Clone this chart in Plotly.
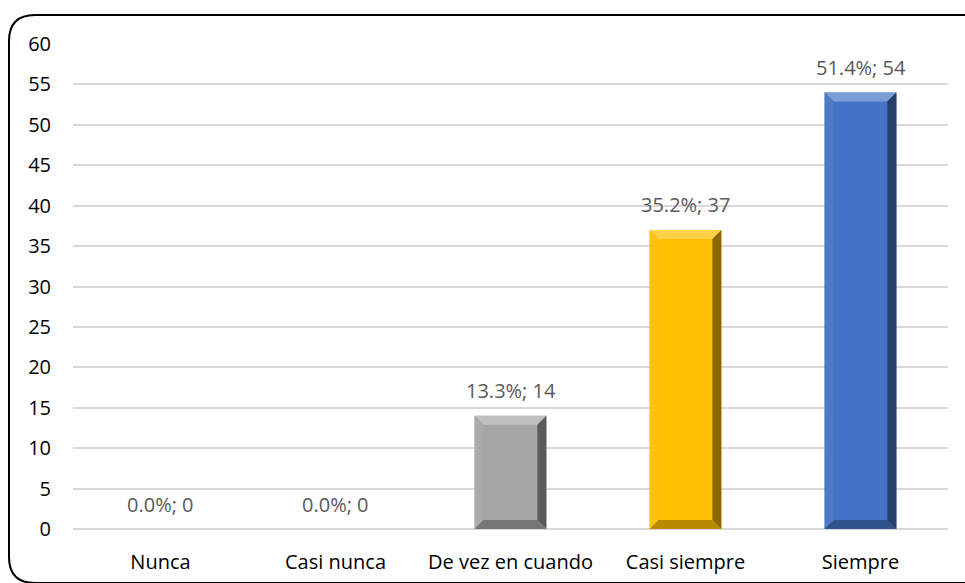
import plotly.graph_objects as go

# Survey responses
categories = ["Nunca", "Casi nunca", "De vez en cuando", "Casi siempre", "Siempre"]
counts = [0, 0, 14, 37, 54]
bar_colors = ["#A5A5A5", "#A5A5A5", "#A5A5A5", "#FFC000", "#4472C4"]
y_ticks = list(range(0, 61, 5))

total = sum(counts)
labels = [f"{c / total * 100:.1f}%; {c}" for c in counts]

W, H = 965, 583
L, R, T, B = 73, 17, 44, 54
plot_w = W - L - R
plot_h = H - T - B
y_max = 60
bar_w = 0.41

FONT = "'Open Sans', 'Noto Sans', sans-serif"
FS = 20

fig = go.Figure()
fig.add_trace(go.Bar(
    x=list(range(len(categories))),
    y=counts,
    width=bar_w,
    marker=dict(color=bar_colors, line=dict(width=0)),
    hoverinfo="skip",
))


def shade(hex_color, f):
    h = hex_color.lstrip("#")
    rgb = [int(h[i:i + 2], 16) for i in (0, 2, 4)]
    if f >= 1:
        rgb = [int(c + (255 - c) * (f - 1)) for c in rgb]
    else:
        rgb = [int(c * f) for c in rgb]
    return "rgb({},{},{})".format(*rgb)


# Bevel faces on each bar (data coordinates)
bev_px = 9
dx = bev_px / plot_w * len(categories)
dy = bev_px / plot_h * y_max
shapes = []
for i, (v, col) in enumerate(zip(counts, bar_colors)):
    if v <= 0:
        continue
    x0, x1 = i - bar_w / 2, i + bar_w / 2
    y0, y1 = 0, v
    faces = [
        # top
        (f"M{x0},{y1} L{x1},{y1} L{x1 - dx},{y1 - dy} L{x0 + dx},{y1 - dy} Z", shade(col, 1.3)),
        # left
        (f"M{x0},{y0} L{x0},{y1} L{x0 + dx},{y1 - dy} L{x0 + dx},{y0 + dy} Z", shade(col, 1.06)),
        # right
        (f"M{x1},{y0} L{x1},{y1} L{x1 - dx},{y1 - dy} L{x1 - dx},{y0 + dy} Z", shade(col, 0.55)),
        # bottom
        (f"M{x0},{y0} L{x1},{y0} L{x1 - dx},{y0 + dy} L{x0 + dx},{y0 + dy} Z", shade(col, 0.72)),
    ]
    for path, fc in faces:
        shapes.append(dict(type="path", path=path, xref="x", yref="y",
                           fillcolor=fc, line=dict(width=0), layer="above"))


# Rounded outer frame (paper coordinates extend beyond the plot area)
def px_to_paper_x(px):
    return (px - L) / plot_w


def px_to_paper_y(py):
    return (H - B - py) / plot_h


fx0, fx1, fy0, fy1, rad = 9, 990, 15, 583, 26
pts = {
    "a": (px_to_paper_x(fx0 + rad), px_to_paper_y(fy0)),
    "b": (px_to_paper_x(fx1 - rad), px_to_paper_y(fy0)),
    "c": (px_to_paper_x(fx1), px_to_paper_y(fy0)),
    "d": (px_to_paper_x(fx1), px_to_paper_y(fy0 + rad)),
    "e": (px_to_paper_x(fx1), px_to_paper_y(fy1 - rad)),
    "f": (px_to_paper_x(fx1), px_to_paper_y(fy1)),
    "g": (px_to_paper_x(fx1 - rad), px_to_paper_y(fy1)),
    "h": (px_to_paper_x(fx0 + rad), px_to_paper_y(fy1)),
    "i": (px_to_paper_x(fx0), px_to_paper_y(fy1)),
    "j": (px_to_paper_x(fx0), px_to_paper_y(fy1 - rad)),
    "k": (px_to_paper_x(fx0), px_to_paper_y(fy0 + rad)),
    "l": (px_to_paper_x(fx0), px_to_paper_y(fy0)),
}
P = lambda k: f"{pts[k][0]},{pts[k][1]}"
frame = (f"M{P('a')} L{P('b')} Q{P('c')} {P('d')} L{P('e')} Q{P('f')} {P('g')} "
         f"L{P('h')} Q{P('i')} {P('j')} L{P('k')} Q{P('l')} {P('a')} Z")
shapes.append(dict(type="path", path=frame, xref="paper", yref="paper",
                   line=dict(color="#000000", width=2), fillcolor="rgba(0,0,0,0)",
                   layer="above"))

annotations = []
for i, (v, lab) in enumerate(zip(counts, labels)):
    annotations.append(dict(x=i, y=v, xref="x", yref="y", text=lab, showarrow=False,
                            yshift=25, yanchor="middle",
                            font=dict(family=FONT, size=FS, color="#595959")))

fig.update_layout(
    width=W, height=H,
    margin=dict(l=L, r=R, t=T, b=B, autoexpand=False),
    paper_bgcolor="white", plot_bgcolor="white",
    showlegend=False,
    shapes=shapes,
    annotations=annotations,
    font=dict(family=FONT, size=FS, color="#000000"),
    xaxis=dict(
        tickmode="array", tickvals=list(range(len(categories))), ticktext=categories,
        range=[-0.5, len(categories) - 0.5], showgrid=False, zeroline=False,
        showline=False, ticks="", ticklabelstandoff=19, automargin=False,
        tickfont=dict(family=FONT, size=FS, color="#000000"),
    ),
    yaxis=dict(
        range=[0, y_max], tickvals=y_ticks, showgrid=True, gridcolor="#D9D9D9",
        gridwidth=1.5, zeroline=True, zerolinecolor="#D9D9D9", zerolinewidth=1.5,
        showline=False, ticks="", ticklabelstandoff=21, automargin=False,
        tickfont=dict(family=FONT, size=FS, color="#000000"),
    ),
)

fig.write_html("out.html")
